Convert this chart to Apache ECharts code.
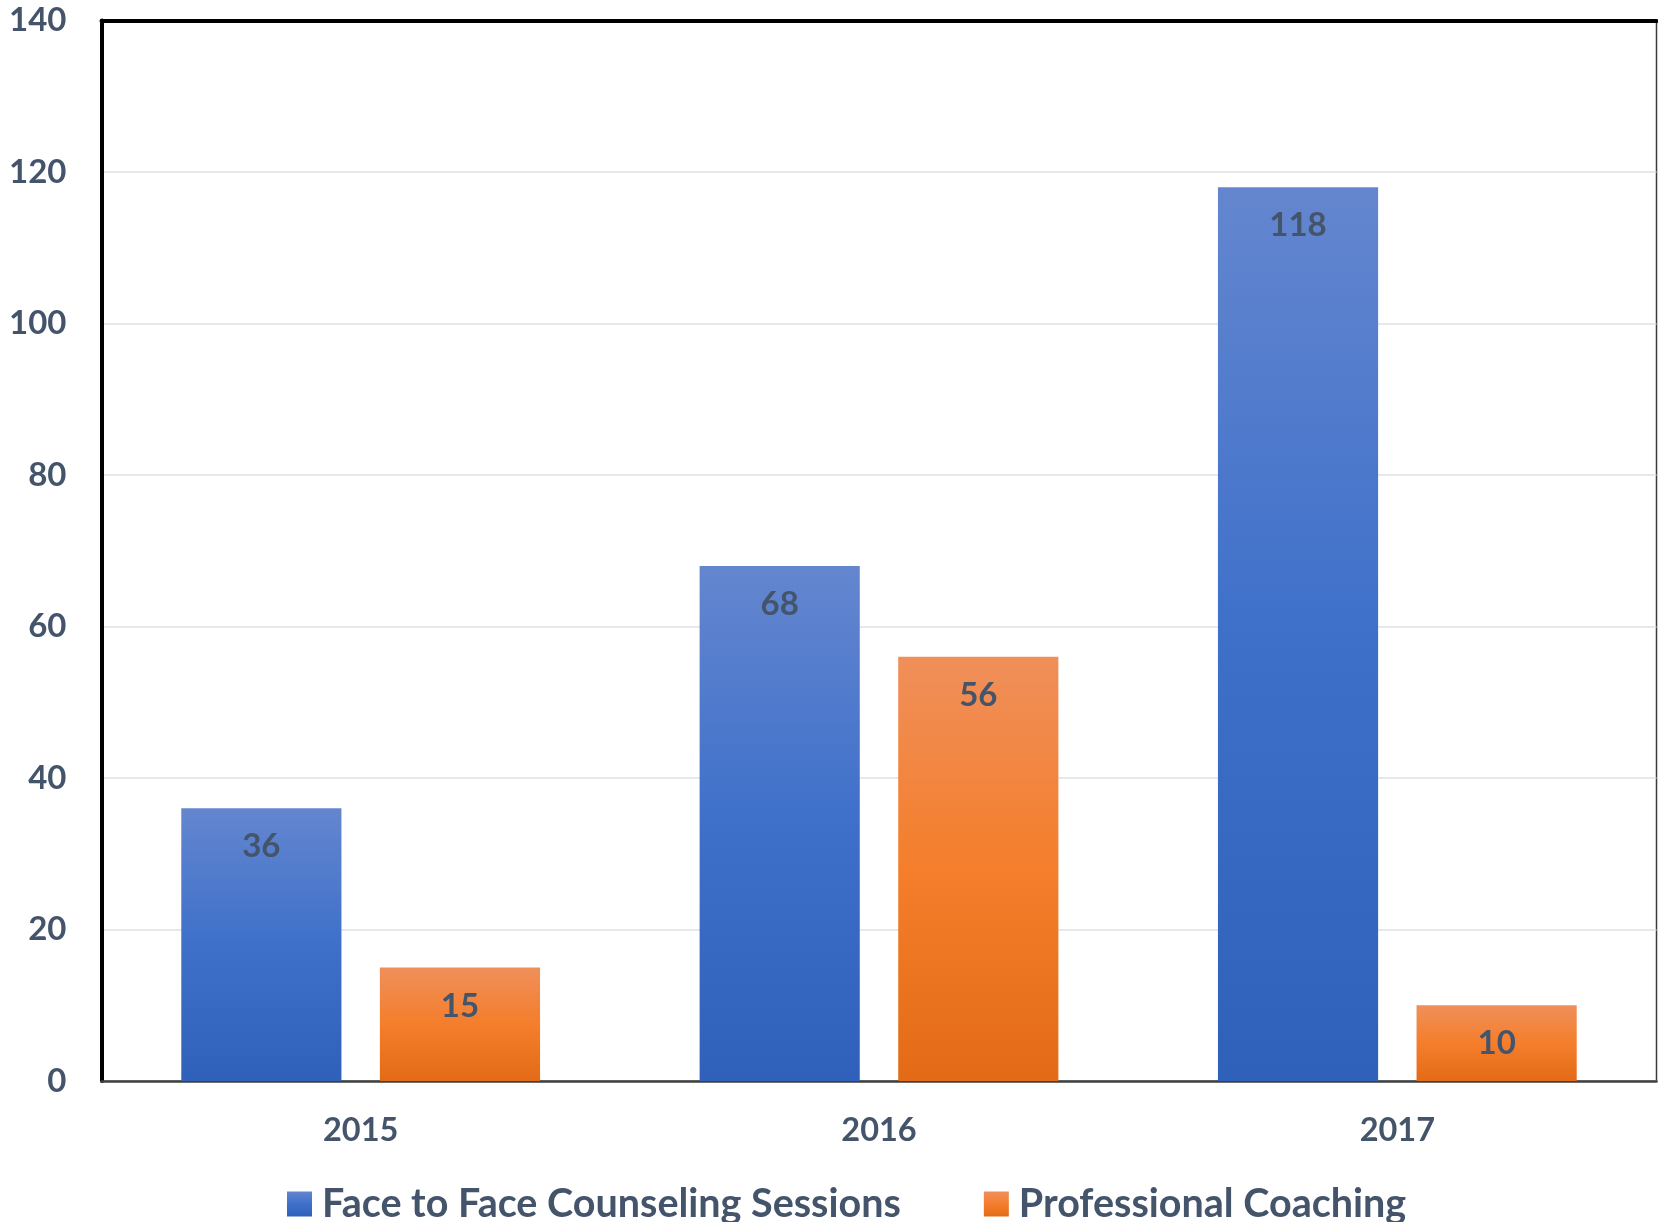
<!DOCTYPE html>
<html>
<head>
<meta charset="utf-8">
<script src="https://cdn.jsdelivr.net/npm/echarts@6/dist/echarts.min.js"></script>
<style>
html,body{margin:0;padding:0;background:#fff;}
#chart{width:1658px;height:1222px;}
</style>
</head>
<body>
<div id="chart"></div>
<script>
const categories = ['2015', '2016', '2017'];
const seriesNames = ['Face to Face Counseling Sessions', 'Professional Coaching'];
const faceToFace = [36, 68, 118];
const coaching = [15, 56, 10];
const yTicks = [0, 20, 40, 60, 80, 100, 120, 140];

const FONT = 'Lato';
const TXT = '#44546A';

function grad(stops) {
  return new echarts.graphic.LinearGradient(0, 0, 0, 1, stops.map((c, i) => ({offset: i / (stops.length - 1), color: c})));
}
const blueGrad = grad(['#6486CF', '#3E70CA', '#2F61BA']);
const orangeGrad = grad(['#F08F5A', '#F47E2B', '#E36B17']);

const chart = echarts.init(document.getElementById('chart'), null, {renderer: 'canvas'});
const labelCfg = {
  show: true, position: 'insideTop', distance: 22,
  color: TXT, fontFamily: FONT, fontWeight: 'bold', fontSize: 33
};
chart.setOption({
  animation: false,
  backgroundColor: '#fff',
  grid: {left: 101.5, right: 1.5, top: 20.5, bottom: 141, show: true, borderColor: '#3a3a3a', borderWidth: 1.5},
  legend: {
    left: 282, top: 1179,
    itemWidth: 25, itemHeight: 25, itemGap: 83,
    icon: 'rect',
    textStyle: {color: TXT, fontFamily: FONT, fontWeight: 'bold', fontSize: 39.5, padding: [0, 0, 0, 5]},
    data: seriesNames
  },
  xAxis: [{
    type: 'category', data: categories, position: 'bottom',
    axisLine: {show: true, lineStyle: {color: '#404040', width: 2.5}},
    axisTick: {show: false},
    axisLabel: {color: TXT, fontFamily: FONT, fontWeight: 'bold', fontSize: 32.5, margin: 33}
  }, {
    type: 'category', data: categories, position: 'top',
    axisLine: {show: true, lineStyle: {color: '#000', width: 4}},
    axisTick: {show: false}, axisLabel: {show: false}
  }],
  yAxis: {
    type: 'value', min: yTicks[0], max: yTicks[yTicks.length - 1], interval: 20,
    axisLine: {show: true, lineStyle: {color: '#000', width: 4}},
    axisTick: {show: false},
    splitLine: {show: true, lineStyle: {color: '#DDE1E6', width: 1.5}},
    axisLabel: {color: TXT, fontFamily: FONT, fontWeight: 'bold', fontSize: 33, margin: 35}
  },
  series: [{
    name: seriesNames[0], type: 'bar', data: faceToFace,
    barWidth: '30.9%', barGap: '24%',
    itemStyle: {color: blueGrad},
    label: labelCfg
  }, {
    name: seriesNames[1], type: 'bar', data: coaching,
    barWidth: '30.9%', barGap: '24%',
    itemStyle: {color: orangeGrad},
    label: labelCfg
  }]
});
</script>
</body>
</html>
